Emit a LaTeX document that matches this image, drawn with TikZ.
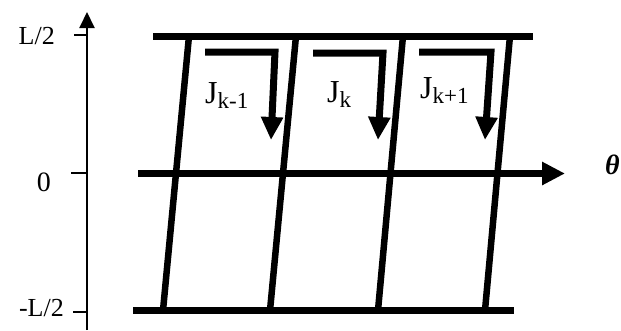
\documentclass[tikz,border=0pt]{standalone}
\usepackage{fontspec}
\setmainfont{Liberation Serif}
\usetikzlibrary{arrows.meta}
\tikzset{
  bar/.style={line width=7pt, line cap=butt},
  rung/.style={line width=6.5pt, line cap=butt},
  axisline/.style={line width=2pt},
  tick/.style={line width=1.5pt},
  current/.style={line width=7pt, line join=miter, line cap=butt, -{Triangle[length=23pt,width=21pt]}},
  axlabel/.style={inner sep=0pt, font=\fontsize{26}{26}\selectfont},
  jlabel/.style={inner sep=0pt, anchor=base west, font=\fontsize{32}{32}\selectfont},
}
\newcommand{\jsub}[1]{{\fontsize{23}{23}\selectfont\raisebox{-5pt}{#1}}}
\begin{document}
\begin{tikzpicture}[x=1pt,y=-1pt]
\useasboundingbox (0,0) rectangle (621,330);
% vertical axis
\coordinate (ybot) at (87,330);
\coordinate (ytop) at (87,12);
\draw[axisline,-{Triangle[length=16pt,width=15pt]}] (ybot) -- (ytop);
% ticks
\coordinate (t1a) at (74,35);  \coordinate (t1b) at (88,35);
\coordinate (t2a) at (71,173); \coordinate (t2b) at (88,173);
\coordinate (t3a) at (73,312); \coordinate (t3b) at (88,312);
\draw[tick] (t1a) -- (t1b);
\draw[tick] (t2a) -- (t2b);
\draw[tick] (t3a) -- (t3b);
\node[axlabel, anchor=base east] (lhalf) at (55,44) {L/2};
\node[axlabel, anchor=base east, font=\fontsize{28}{28}\selectfont] (lzero) at (51,191) {0};
\node[axlabel, anchor=base east] (lmhalf) at (64,316) {-L/2};
% horizontal bars
\coordinate (topL) at (153,36);  \coordinate (topR) at (533,36);
\coordinate (botL) at (133,310.5); \coordinate (botR) at (514,310.5);
\draw[bar] (topL) -- (topR);
\draw[bar] (botL) -- (botR);
% theta axis
\coordinate (thL) at (138,173.5);
\coordinate (thR) at (565,173.5);
\draw[bar,-{Triangle[length=23pt,width=22pt]}] (thL) -- (thR);
\node[inner sep=0pt, anchor=base west, font=\fontsize{28}{28}\selectfont\bfseries\itshape] (theta) at (605,174) {θ};
% rungs
\coordinate (r1t) at (189,36);  \coordinate (r1b) at (163,310.5);
\coordinate (r2t) at (296,36);  \coordinate (r2b) at (270,310.5);
\coordinate (r3t) at (403,36);  \coordinate (r3b) at (378,310.5);
\coordinate (r4t) at (510,36);  \coordinate (r4b) at (485,310.5);
\draw[rung] (r1t) -- (r1b);
\draw[rung] (r2t) -- (r2b);
\draw[rung] (r3t) -- (r3b);
\draw[rung] (r4t) -- (r4b);
% currents
\coordinate (a1s) at (205,52); \coordinate (a1c) at (275,52); \coordinate (a1e) at (271,140);
\coordinate (a2s) at (313,53); \coordinate (a2c) at (383,53); \coordinate (a2e) at (378,140);
\coordinate (a3s) at (419,52); \coordinate (a3c) at (491,52); \coordinate (a3e) at (485,140);
\draw[current] (a1s) -- (a1c) -- (a1e);
\draw[current] (a2s) -- (a2c) -- (a2e);
\draw[current] (a3s) -- (a3c) -- (a3e);
\node[jlabel] (j1) at (205,103) {J\jsub{k-1}};
\node[jlabel] (j2) at (327,102) {J\jsub{k}};
\node[jlabel] (j3) at (420,98) {J\jsub{k+1}};
\end{tikzpicture}
\end{document}
